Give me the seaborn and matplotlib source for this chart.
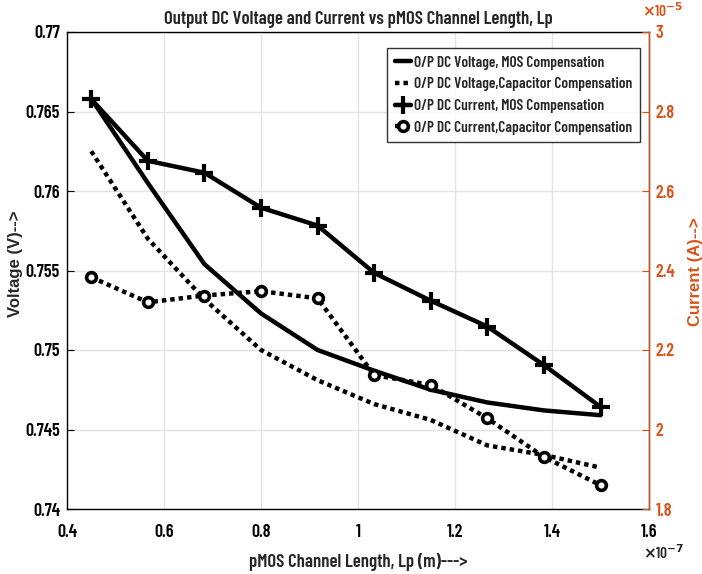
import matplotlib
matplotlib.use("Agg")
import matplotlib.pyplot as plt
import seaborn as sns
import pandas as pd

# ---- data ----
lp_e7 = [0.45, 0.5667, 0.6833, 0.80, 0.9167, 1.0333, 1.15, 1.2667, 1.3833, 1.50]  # x10^-7 m
v_mos = [0.7658, 0.7605, 0.7554, 0.7523, 0.7500, 0.7487, 0.7475, 0.7467, 0.7462, 0.7459]
v_cap = [0.7625, 0.7570, 0.7532, 0.7500, 0.7481, 0.7466, 0.7456, 0.7440, 0.7434, 0.7426]
i_mos = [2.831, 2.676, 2.646, 2.558, 2.513, 2.394, 2.324, 2.259, 2.162, 2.057]  # x10^-5 A
i_cap = [2.383, 2.320, 2.337, 2.348, 2.330, 2.137, 2.112, 2.028, 1.931, 1.860]

x_ticks = [0.4, 0.6, 0.8, 1.0, 1.2, 1.4, 1.6]
x_ticklabels = ["0.4", "0.6", "0.8", "1", "1.2", "1.4", "1.6"]
v_ticks = [0.74, 0.745, 0.75, 0.755, 0.76, 0.765, 0.77]
v_ticklabels = ["0.74", "0.745", "0.75", "0.755", "0.76", "0.765", "0.77"]
i_ticks = [1.8, 2.0, 2.2, 2.4, 2.6, 2.8, 3.0]
i_ticklabels = ["1.8", "2", "2.2", "2.4", "2.6", "2.8", "3"]

labels = ["O/P DC Voltage, MOS Compensation",
          "O/P DC Voltage,Capacitor Compensation",
          "O/P DC Current, MOS Compensation",
          "O/P DC Current,Capacitor Compensation"]

df = pd.DataFrame({"Lp": lp_e7, "v_mos": v_mos, "v_cap": v_cap, "i_mos": i_mos, "i_cap": i_cap})

sns.set_style("white")
NARROW = ["Barlow Condensed", "DejaVu Sans"]
BOLDW = ["Liberation Sans", "DejaVu Sans"]
plt.rcParams["font.family"] = NARROW
plt.rcParams["font.weight"] = 600
ORANGE = "#D95319"

fig = plt.figure(figsize=(7.02, 5.74), dpi=100)
ax = fig.add_axes([67/702, 1 - 509/574, (649-67)/702, (509-32)/574])
ax2 = ax.twinx()

dot = (0, (1, 0.9))
sns.lineplot(data=df, x="Lp", y="v_mos", ax=ax, color="black", lw=3.2, label=labels[0], legend=False)
sns.lineplot(data=df, x="Lp", y="v_cap", ax=ax, color="black", lw=3.2, linestyle=dot, label=labels[1], legend=False)
sns.lineplot(data=df, x="Lp", y="i_mos", ax=ax2, color="black", lw=3.2, marker="+", ms=13, mew=3,
             mec="black", label=labels[2], legend=False)
sns.lineplot(data=df, x="Lp", y="i_cap", ax=ax2, color="black", lw=3.2, linestyle=dot, marker="o", ms=7,
             mew=2.6, mfc="white", mec="black", label=labels[3], legend=False)

ax.set_xlim(0.4, 1.6)
ax.set_ylim(0.74, 0.77)
ax2.set_ylim(1.8, 3.0)
ax.set_xticks(x_ticks)
ax.set_xticklabels(x_ticklabels)
ax.set_yticks(v_ticks)
ax.set_yticklabels(v_ticklabels)
ax2.set_yticks(i_ticks)
ax2.set_yticklabels(i_ticklabels)

ax.grid(True, color="#e3e3e3", lw=1)
ax.set_axisbelow(True)
for sp in ax.spines.values():
    sp.set_color("black"); sp.set_linewidth(1)
for sp in ax2.spines.values():
    sp.set_visible(False)
ax2.spines["right"].set_visible(True)
ax2.spines["right"].set_color(ORANGE)
ax.tick_params(axis="both", direction="in", length=5, width=0.8, labelsize=13, colors="black", pad=5)
ax.tick_params(axis="x", pad=11)
ax2.tick_params(axis="y", direction="in", length=5, width=0.8, labelsize=13, colors=ORANGE, pad=5)

ax.set_xlabel("pMOS Channel Length, Lp (m)--->", fontsize=13.5, fontweight=600)
ax.xaxis.set_label_coords(358/702, 1 - 553/574, transform=fig.transFigure)
ax.set_ylabel("Voltage (V)-->", fontsize=12, fontweight="bold", family=BOLDW)
ax.yaxis.set_label_coords(23/702, 1 - 264/574, transform=fig.transFigure)
ax2.set_ylabel("Current (A)-->", fontsize=12, fontweight="bold", family=BOLDW, color=ORANGE)
ax2.yaxis.set_label_coords(688/702, 1 - 272/574, transform=fig.transFigure)
ax.set_title("Output DC Voltage and Current vs pMOS Channel Length, Lp", fontsize=13.5, fontweight=600, pad=6)

fig.text(664/702, 1 - 553/574, r"$\times$10$^{-7}$", fontsize=11, ha="center", va="center")
fig.text(663/702, 1 - 11/574, r"$\times$10$^{-5}$", fontsize=11, ha="center", va="center", color=ORANGE)

h1, l1 = ax.get_legend_handles_labels()
h2, l2 = ax2.get_legend_handles_labels()
leg = ax2.legend(h1 + h2, l1 + l2, loc="upper left",
                 bbox_to_anchor=(387/702, 1 - 48/574), bbox_transform=fig.transFigure, fontsize=11,
                 frameon=True, fancybox=False, edgecolor="black", handlelength=1.1, handletextpad=0.2,
                 borderpad=0.5, labelspacing=0.5, borderaxespad=0)
leg.get_frame().set_linewidth(1)

fig.savefig("out.png", dpi=100)
